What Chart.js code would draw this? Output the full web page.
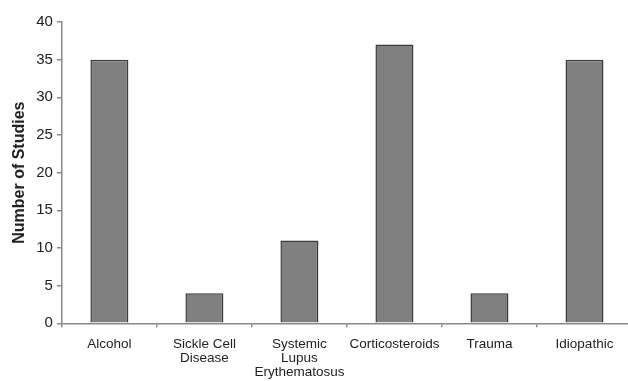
<!DOCTYPE html>
<html>
<head>
<meta charset="utf-8">
<script src="https://cdn.jsdelivr.net/npm/chart.js@4"></script>
<style>
html, body { margin: 0; padding: 0; background: #fff; overflow: hidden; }
/* the source picture is cropped on the right, so the canvas is a little wider than the window */
#wrap { width: 628px; height: 381px; overflow: hidden; }
</style>
</head>
<body>
<div id="wrap"><canvas id="myChart" width="636" height="381"></canvas></div>
<script>
// categories and values
const categories = [
  'Alcohol',
  ['Sickle Cell', 'Disease'],
  ['Systemic', 'Lupus', 'Erythematosus'],
  'Corticosteroids',
  'Trauma',
  'Idiopathic'
];
const studies = [35, 4, 11, 37, 4, 35];

const axisColor = '#8a8a8a';
const textColor = '#222222';
const fontFamily = 'Liberation Sans, Arial, sans-serif';

const config = {
  type: 'bar',
  data: {
    labels: categories,
    datasets: [{
      label: 'Number of Studies',
      data: studies,
      backgroundColor: '#808080',
      borderColor: '#3c3c3c',
      borderWidth: 1.5,
      barPercentage: 0.4,
      categoryPercentage: 1
    }]
  },
  options: {
    responsive: false,
    animation: false,
    layout: {
      padding: { top: 22, right: 4, left: 10, bottom: -8 }
    },
    scales: {
      x: {
        grid: {
          display: true,
          drawOnChartArea: false,
          drawTicks: true,
          tickLength: 4,
          color: axisColor,
          lineWidth: 1.5
        },
        border: { color: axisColor, width: 1.5 },
        ticks: {
          color: textColor,
          font: { family: fontFamily, size: 13.5, lineHeight: 1.03 },
          maxRotation: 0,
          autoSkip: false,
          padding: 10
        }
      },
      y: {
        min: 0,
        max: 40,
        grid: {
          display: true,
          drawOnChartArea: false,
          drawTicks: true,
          tickLength: 5,
          color: axisColor,
          lineWidth: 1.5
        },
        border: { color: axisColor, width: 1.5 },
        ticks: {
          stepSize: 5,
          color: textColor,
          font: { family: fontFamily, size: 15 },
          padding: 4
        },
        title: {
          display: true,
          text: 'Number of Studies',
          color: textColor,
          font: { family: fontFamily, size: 16, weight: 'bold' },
          padding: { top: 0, bottom: 3 }
        }
      }
    },
    plugins: {
      legend: { display: false },
      tooltip: { enabled: false }
    }
  }
};

new Chart(document.getElementById('myChart'), config);
</script>
</body>
</html>
